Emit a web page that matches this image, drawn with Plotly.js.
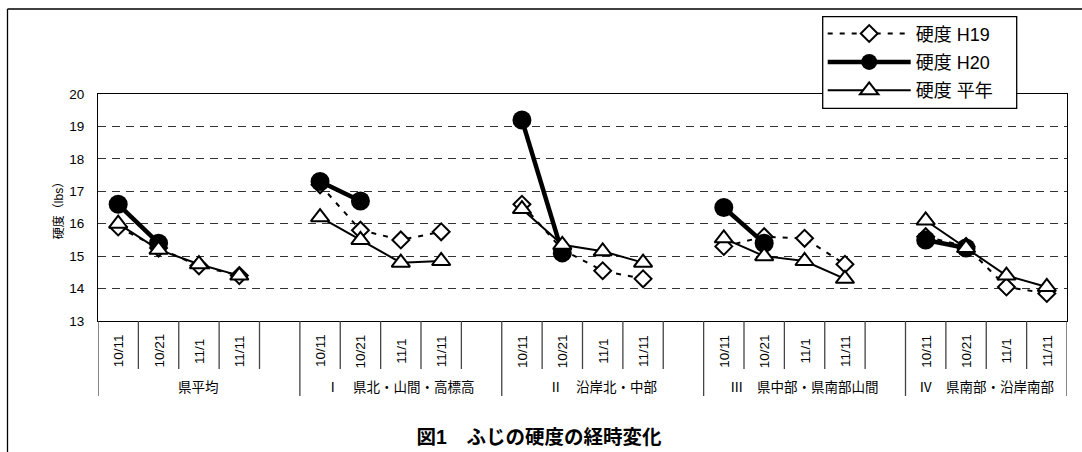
<!DOCTYPE html>
<html><head><meta charset="utf-8">
<script src="https://cdn.plot.ly/plotly-3.0.1.min.js"></script>
<style>html,body{margin:0;padding:0;background:#fff}#chart{width:1082px;height:452px}</style>
</head><body><div id="chart"></div>
<script>
// ---- data ----
const groups = ["県平均", "Ⅰ　県北・山間・高標高", "Ⅱ　沿岸北・中部", "Ⅲ　県中部・県南部山間", "Ⅳ　県南部・沿岸南部"];
const dates = ["10/11", "10/21", "11/1", "11/11"];
const seriesNames = ["硬度 H19", "硬度 H20", "硬度 平年"];
const h19 = [[15.9, 15.25, 14.7, 14.4], [17.2, 15.8, 15.5, 15.75], [16.6, 15.2, 14.55, 14.3], [15.3, 15.6, 15.55, 14.75], [15.6, 15.3, 14.05, 13.85]];
const h20 = [[16.6, 15.4, null, null], [17.3, 16.7, null, null], [19.2, 15.1, null, null], [16.5, 15.4, null, null], [15.5, 15.25, null, null]];
const heinen = [[16.0, 15.2, 14.75, 14.4], [16.2, 15.5, 14.8, 14.85], [16.45, 15.35, 15.15, 14.8], [15.55, 15.0, 14.85, 14.3], [16.1, 15.25, 14.4, 14.05]];
const yTicks = [13, 14, 15, 16, 17, 18, 19, 20];
const chartTitle = "図1　ふじの硬度の経時変化";
const yTitle = "硬度（lbs）";

// ---- geometry ----
const W = 1082, H = 452, L = 98, R = 15, T = 94, B = 131;
const PW = W - L - R, PH = H - T - B;
const xp = px => (px - L) / PW;
const yp = py => (H - B - py) / PH;
const SLOTS = groups.length * 5 - 1;
const FONT = "Liberation Sans, Arial, 'Noto Sans CJK JP', sans-serif";

function flatten(arr) {
  const xs = [], ys = [];
  arr.forEach((g, gi) => {
    g.forEach((v, di) => { xs.push(gi * 5 + di); ys.push(v); });
    if (gi < arr.length - 1) { xs.push(gi * 5 + 4); ys.push(null); }
  });
  return {xs, ys};
}
const d19 = flatten(h19), d20 = flatten(h20), dN = flatten(heinen);

const traces = [
  {x: d19.xs, y: d19.ys, name: seriesNames[0], legendgroup: 'a', type: 'scatter', mode: 'lines+markers', connectgaps: false,
   line: {color: '#000', width: 2, dash: '5px,7px'},
   marker: {symbol: 'diamond', size: 13, color: '#fff', line: {color: '#000', width: 2}}},
  {x: d20.xs, y: d20.ys, name: seriesNames[1], legendgroup: 'b', type: 'scatter', mode: 'lines+markers', connectgaps: false,
   line: {color: '#000', width: 4.5},
   marker: {symbol: 'circle', size: 19, color: '#000', line: {color: '#000', width: 0}}},
  {x: dN.xs, y: dN.ys, name: seriesNames[2], legendgroup: 'c', type: 'scatter', mode: 'lines+markers', connectgaps: false,
   line: {color: '#000', width: 2},
   marker: {symbol: 'triangle-up', size: 16, color: '#fff', line: {color: '#000', width: 2}}}
];

const shapes = [];
const annotations = [];
// slot separators below the axis
for (let k = 0; k <= SLOTS; k++) {
  const isGroup = (k % 5 === 0) || k === SLOTS;
  shapes.push({type: 'line', xref: 'x', yref: 'paper', ysizemode: 'pixel', yanchor: 0,
    x0: k - 0.5, x1: k - 0.5, y0: 0, y1: isGroup ? -75 : -48,
    line: {color: '#444', width: 1.3}});
}
// date labels and group labels
groups.forEach((g, gi) => {
  dates.forEach((d, di) => {
    annotations.push({x: gi * 5 + di, xref: 'x', y: 0, yref: 'paper', yshift: -30,
      text: d, textangle: -90, showarrow: false, xanchor: 'center', yanchor: 'middle',
      font: {size: 13.5, color: '#000', family: FONT}});
  });
  const lo = gi * 5 - 0.5, hi = Math.min(gi * 5 + 4.5, SLOTS - 0.5);
  annotations.push({x: (lo + hi) / 2, xref: 'x', y: 0, yref: 'paper', yshift: -66,
    text: g, showarrow: false, xanchor: 'center', yanchor: 'middle',
    font: {size: 13.5, color: '#000', family: FONT}});
});
// outer chart frame (left and top)
shapes.push({type: 'line', xref: 'paper', yref: 'paper', x0: xp(7.5), x1: xp(7.5), y0: yp(9), y1: yp(460), line: {color: '#000', width: 1.3}});
shapes.push({type: 'line', xref: 'paper', yref: 'paper', x0: xp(7.5), x1: xp(1090), y0: yp(9), y1: yp(9), line: {color: '#000', width: 1.3}});
// legend frame
shapes.push({type: 'rect', xref: 'paper', yref: 'paper', layer: 'above', x0: xp(822.7), x1: xp(1016.7), y0: yp(16.7), y1: yp(108.3),
  fillcolor: '#fff', line: {color: '#000', width: 1.3}});

const layout = {
  width: W, height: H,
  margin: {l: L, r: R, t: T, b: B, pad: 0},
  paper_bgcolor: '#fff', plot_bgcolor: '#fff',
  font: {family: FONT, color: '#000'},
  showlegend: true,
  title: {text: chartTitle, font: {size: 19.5, family: FONT, color: '#000', weight: 'bold'},
          x: xp(539), xref: 'paper', xanchor: 'center', y: 1 - 437 / H, yref: 'container', yanchor: 'middle'},
  xaxis: {range: [-0.5, SLOTS - 0.5], showgrid: false, zeroline: false, showticklabels: false, ticks: '',
          showline: true, mirror: true, linecolor: '#000', linewidth: 1, fixedrange: true},
  yaxis: {range: [13, 20], tickvals: yTicks, ticktext: yTicks.map(String), showgrid: true,
          gridcolor: '#333', gridwidth: 1, griddash: '8px,6px', zeroline: false,
          showline: true, mirror: true, linecolor: '#000', linewidth: 1, ticks: '',
          ticklabelstandoff: 10, tickfont: {size: 13.5, family: FONT, color: '#000'},
          title: {text: yTitle, standoff: 3, font: {size: 12, family: FONT, color: '#000'}}, fixedrange: true},
  legend: {x: xp(822.7), y: yp(15.3), xanchor: 'left', yanchor: 'top', bgcolor: 'rgba(0,0,0,0)',
           borderwidth: 0, font: {size: 18, family: FONT, color: '#000'},
           itemwidth: 83, traceorder: 'grouped', tracegroupgap: 2, itemsizing: 'trace'},
  shapes: shapes,
  annotations: annotations
};

Plotly.newPlot('chart', traces, layout, {displayModeBar: false, staticPlot: true});
</script>
</body></html>
